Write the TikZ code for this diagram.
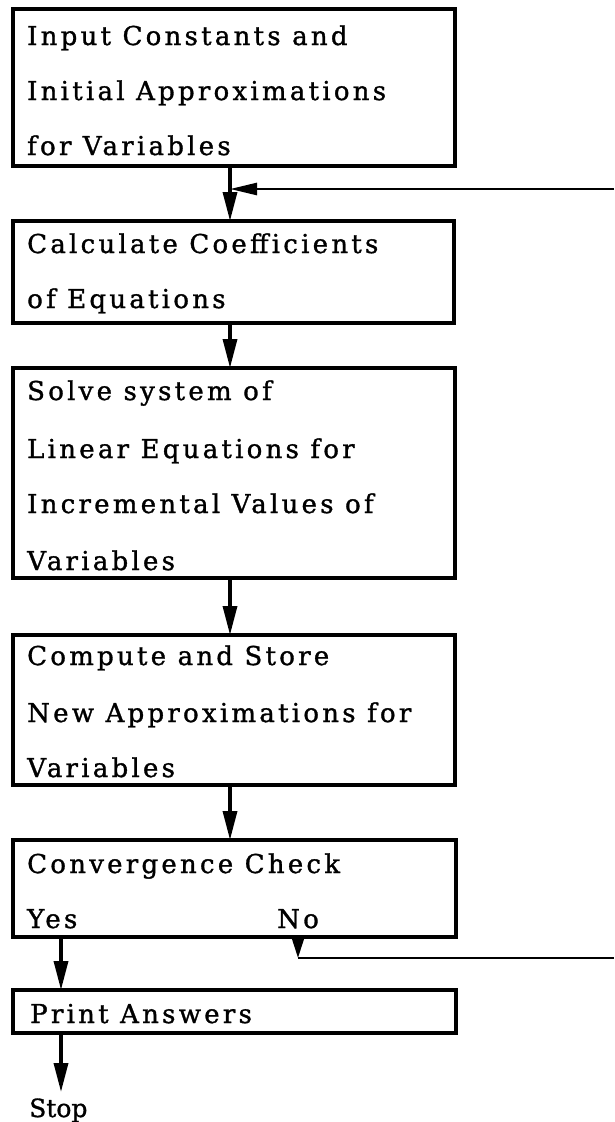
\documentclass[tikz,border=0pt]{standalone}
\usepackage{fontspec}
\usetikzlibrary{arrows.meta}
\newfontfamily\boxfont[LetterSpace=12.5,FakeBold=1.2]{DejaVu Serif}
\newfontfamily\plainfont[FakeBold=1.2]{DejaVu Serif}
\begin{document}
\begin{tikzpicture}[x=1pt,y=-1pt,
  boxline/.style={draw,line width=3.4pt,inner sep=0pt},
  txt/.style={anchor=base west,inner sep=0pt,font=\boxfont\fontsize{26}{30}\selectfont},
  flow/.style={line width=3.4pt,-{Triangle[length=29pt,width=14pt]}},
  back/.style={line width=2.6pt,-{Triangle[length=27pt,width=12pt]}},
  plain/.style={line width=2.6pt}]
\useasboundingbox (0,0) rectangle (614,1122);
% boxes
\path[boxline] (13,9) rectangle (455,166) coordinate (b1se);
\coordinate (b1s) at (230,166);
\path[boxline] (13,221) rectangle (454,323);
\coordinate (b2n) at (230,221);
\coordinate (b2s) at (230,323);
\path[boxline] (13,368) rectangle (455,578);
\coordinate (b3n) at (230,368);
\coordinate (b3s) at (230,578);
\path[boxline] (13,635) rectangle (455,785);
\coordinate (b4n) at (230,635);
\coordinate (b4s) at (230,785);
\path[boxline] (13,840) rectangle (456,937);
\coordinate (b5n) at (230,840);
\coordinate (yes) at (61,937);
\coordinate (no) at (298,937);
\path[boxline] (13,990) rectangle (456,1033);
\coordinate (b6n) at (61,990);
\coordinate (b6s) at (61,1033);
% texts
\node[txt] (t11) at (27,45) {Input Constants and};
\node[txt] (t12) at (27,100) {Initial Approximations};
\node[txt] (t13) at (27,155) {for Variables};
\node[txt] (t21) at (27,253) {Calculate Coefficients};
\node[txt] (t22) at (27,308) {of Equations};
\node[txt] (t31) at (27,400) {Solve system of};
\node[txt] (t32) at (27,458) {Linear Equations for};
\node[txt] (t33) at (27,513) {Incremental Values of};
\node[txt] (t34) at (27,570) {Variables};
\node[txt] (t41) at (27,665) {Compute and Store};
\node[txt] (t42) at (27,722) {New Approximations for};
\node[txt] (t43) at (27,777) {Variables};
\node[txt] (t51) at (27,873) {Convergence Check};
\node[txt] (t52) at (27,928) {Yes};
\node[txt] (t53) at (277,928) {No};
\node[txt] (t61) at (30,1023) {Print Answers};
\node[anchor=base west,inner sep=0pt,font=\plainfont\fontsize{25}{28}\selectfont] (stop) at (29,1117) {Stop};
% connectors
\coordinate (junc) at (230,189);
\coordinate (rtop) at (614,189);
\coordinate (nocorner) at (298,958);
\coordinate (rbot) at (614,958);
\coordinate (stoparr) at (61,1092);
\draw[flow] (b1s) -- (b2n);
\draw[back] (rtop) -- (junc);
\draw[flow] (b2s) -- (b3n);
\draw[flow] (b3s) -- (b4n);
\draw[flow] (b4s) -- (b5n);
\draw[flow] (yes) -- (b6n);
\draw[flow] (b6s) -- (stoparr);
\draw[line width=2.6pt,-{Triangle[length=20pt,width=12pt]}] (no) -- (nocorner);
\draw[plain] (nocorner) -- (rbot);
\end{tikzpicture}
\end{document}
